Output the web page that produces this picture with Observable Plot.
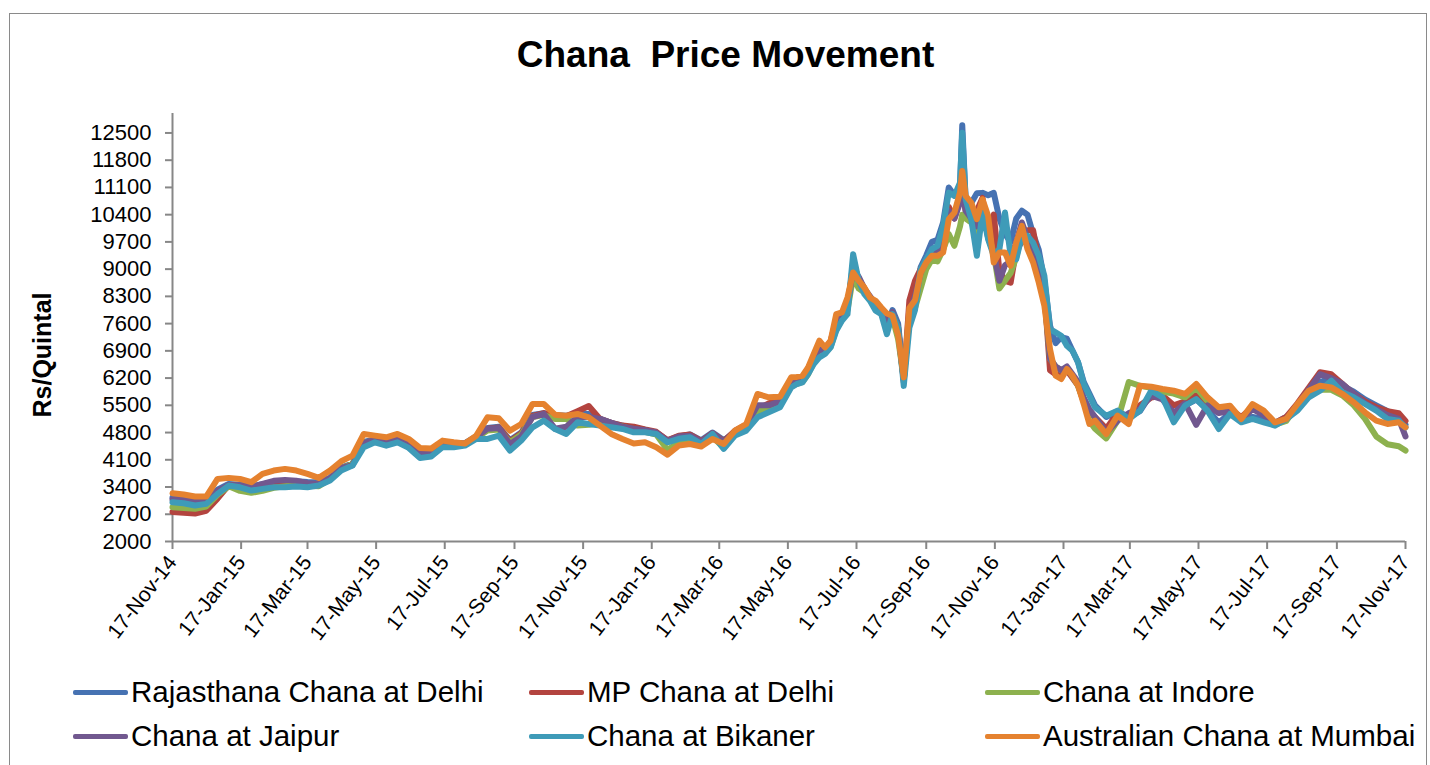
<!DOCTYPE html>
<html><head><meta charset="utf-8">
<script src="https://cdn.jsdelivr.net/npm/d3@7"></script>
<script src="https://cdn.jsdelivr.net/npm/@observablehq/plot@0.6"></script>
<style>
body{margin:0;background:#fff;font-family:"Liberation Sans",Arial,sans-serif;}
#wrap{position:relative;width:1430px;height:765px;overflow:hidden;background:#fff;}
#frame{position:absolute;left:9px;top:13px;width:1418px;height:800px;border:1px solid #8a8a8a;box-sizing:border-box;pointer-events:none;}
#title{position:absolute;left:0;width:1451px;top:33px;text-align:center;font-weight:bold;font-size:37px;white-space:pre;line-height:44px;}
#ytitle{position:absolute;left:42px;top:355px;transform:translate(-50%,-50%) rotate(-90deg);font-weight:bold;font-size:25px;white-space:nowrap;}
#chart{position:absolute;left:0;top:0;}
.leg{position:absolute;display:flex;align-items:center;font-size:29.5px;white-space:nowrap;transform:translateY(-50%);}
.leg span.sw{display:inline-block;width:55px;height:5px;border-radius:2px;margin-right:3px;}
</style></head>
<body>
<div id="wrap">
  <div id="chart"></div>
  <div id="title"></div>
  <div id="ytitle"></div>
  <div id="legend"></div>
  <div id="frame"></div>
</div>
<script>
const titleText = "Chana  Price Movement";
const yTitle = "Rs/Quintal";
const seriesNames = ["Rajasthana Chana at Delhi","MP Chana at Delhi","Chana at Indore","Chana at Jaipur","Chana at Bikaner","Australian Chana at Mumbai"];
const seriesColors = ["#4672B2","#B3443F","#8DB14E","#71588F","#3E9BB8","#E5822F"];
const yTicks = [2000,2700,3400,4100,4800,5500,6200,6900,7600,8300,9000,9700,10400,11100,11800,12500];
const xTickLabels = ["2014-11-17","2015-01-17","2015-03-17","2015-05-17","2015-07-17","2015-09-17","2015-11-17","2016-01-17","2016-03-17","2016-05-17","2016-07-17","2016-09-17","2016-11-17","2017-01-17","2017-03-17","2017-05-17","2017-07-17","2017-09-17","2017-11-17"];

const dates = [
"2014-11-17","2014-11-27","2014-12-07","2014-12-17","2014-12-27","2015-01-06","2015-01-16","2015-01-26","2015-02-05","2015-02-15","2015-02-25","2015-03-07","2015-03-17","2015-03-27","2015-04-06","2015-04-16","2015-04-26","2015-05-06","2015-05-16","2015-05-26","2015-06-05","2015-06-15","2015-06-25",
"2015-07-05","2015-07-15","2015-07-25","2015-08-04","2015-08-14","2015-08-24","2015-09-03","2015-09-13","2015-09-23","2015-10-03","2015-10-13","2015-10-23","2015-11-02","2015-11-12","2015-11-22","2015-12-02","2015-12-12","2015-12-22","2016-01-01","2016-01-11","2016-01-21","2016-01-31",
"2016-02-10","2016-02-20","2016-03-01","2016-03-11","2016-03-21","2016-03-31","2016-04-10","2016-04-20","2016-04-30","2016-05-10",
"2016-05-20","2016-05-25","2016-05-30","2016-06-04","2016-06-09","2016-06-14","2016-06-19","2016-06-24","2016-06-29","2016-07-04","2016-07-09","2016-07-14","2016-07-19","2016-07-24","2016-07-29","2016-08-03","2016-08-08","2016-08-13","2016-08-18","2016-08-23","2016-08-28","2016-09-02","2016-09-07","2016-09-12","2016-09-17","2016-09-22","2016-09-27","2016-10-02","2016-10-07","2016-10-12","2016-10-17",
"2016-10-19",
"2016-10-22","2016-10-27","2016-11-01","2016-11-06","2016-11-11","2016-11-16","2016-11-21","2016-11-26","2016-12-01","2016-12-06","2016-12-11","2016-12-16","2016-12-21","2016-12-26","2016-12-31","2017-01-05","2017-01-10","2017-01-15","2017-01-20","2017-01-25","2017-01-30","2017-02-04","2017-02-09","2017-02-14",
"2017-02-24","2017-03-06","2017-03-16","2017-03-26","2017-04-05","2017-04-15","2017-04-25","2017-05-05","2017-05-15","2017-05-25","2017-06-04","2017-06-14","2017-06-24","2017-07-04","2017-07-14","2017-07-24","2017-08-03","2017-08-13","2017-08-23","2017-09-02","2017-09-12","2017-09-22","2017-10-02","2017-10-12","2017-10-22","2017-11-01","2017-11-11","2017-11-17"];

const rajasthanaDelhi = [
3130,3100,3060,3080,3330,3480,3460,3420,3470,3520,3540,3550,3530,3520,3640,3900,4000,4560,4620,4560,4640,4520,4250,
4300,4500,4520,4530,4700,4920,4950,4600,4800,5250,5300,5250,5230,5300,5280,5150,5050,4980,4900,4870,4800,4600,
4700,4750,4600,4800,4600,4820,4950,5300,5420,5550,
6050,6100,6150,6380,6650,6900,6900,7050,7550,7750,8000,9150,8750,8450,8250,8050,7950,7500,7950,7600,6150,7800,8100,9050,9350,9700,9750,10200,11100,10900,11100,
12700,
10800,10700,10950,10960,10900,10960,10300,9900,9700,10300,10500,10400,9900,9500,8700,7550,7100,7250,7211,6900,6600,6100,5800,5500,
5200,5350,5200,5350,5800,5700,5300,5500,5650,5400,5050,5300,5150,5200,5150,5050,5200,5450,5850,6100,6200,6000,5850,5650,5500,5350,5200,5000];

const mpDelhi = [
2760,2740,2720,2790,3100,3450,3420,3380,3400,3450,3470,3500,3470,3460,3600,3880,3980,4540,4600,4560,4620,4520,4260,
4280,4480,4500,4520,4680,4900,4930,4580,4780,5230,5300,5200,5220,5350,5480,5150,5050,4980,4950,4880,4820,4600,
4720,4750,4580,4780,4580,4850,5000,5400,5550,5650,
6100,6150,6200,6450,6750,7050,6950,7150,7700,7850,8150,8950,8750,8500,8250,8100,7950,7700,7850,7500,6100,8200,8700,9000,9150,9400,9300,9900,10600,10300,10800,
11000,
10500,10400,10500,10830,9900,10400,8960,8700,8650,9500,9700,10000,10000,9200,8400,6400,6300,6250,6400,6200,6000,5600,5300,5200,
4900,5300,5150,5500,5700,5750,5500,5600,5800,5500,5350,5400,5200,5450,5300,5050,5200,5550,5950,6350,6300,6050,5800,5600,5450,5350,5300,5100];

const indore = [
2880,2860,2840,2900,3200,3420,3300,3250,3300,3380,3420,3460,3430,3420,3600,3890,3990,4550,4580,4540,4600,4500,4220,
4250,4460,4480,4500,4660,4850,4880,4550,4750,5200,5250,5150,5150,4980,5000,5050,5000,4950,4880,4820,4750,4350,
4550,4600,4470,4700,4400,4780,4950,5350,5450,5550,
6000,6050,6100,6300,6600,6850,6850,7000,7450,7700,7950,8800,8500,8400,8200,8050,7900,7500,7750,7200,6200,7700,8000,8500,9000,9250,9200,9500,9900,9600,10100,
10400,
10300,10200,9900,10400,9900,9400,8500,8700,8900,9300,9900,9600,9300,8900,8300,6700,6500,6400,6450,6250,6000,5600,5100,4900,
4650,5100,6100,6000,5950,5850,5800,5700,5950,5600,5400,5400,5100,5450,5300,5000,5100,5500,5850,5900,5900,5750,5500,5150,4700,4500,4450,4336];

const jaipur = [
3080,3060,3020,3050,3300,3450,3440,3400,3480,3560,3580,3560,3500,3480,3620,3890,3960,4540,4600,4560,4630,4520,4240,
4280,4480,4500,4510,4680,4900,4920,4500,4700,5200,5280,4900,4950,5200,5200,5150,5050,4950,4900,4860,4800,4580,
4700,4720,4560,4780,4560,4820,4980,5500,5500,5600,
6080,6120,6180,6420,6700,6950,6900,7100,7600,7800,8050,9000,8800,8500,8300,8100,7950,7600,7900,7450,6150,7900,8300,8900,9200,9500,9400,9800,10500,10300,10700,
11100,
10500,10300,10100,10600,9800,9400,8700,9100,9200,9700,10200,9800,9500,9000,8400,6700,6500,6400,6500,6300,6100,5700,5400,5200,
4800,5100,5300,5400,5750,5650,5300,5550,5000,5500,5300,5350,5150,5400,5250,5000,5150,5500,5900,6300,6200,6050,5800,5550,5400,5250,5150,4700];

const bikaner = [
3009,2983,2924,2967,3223,3437,3394,3309,3352,3394,3394,3412,3394,3437,3566,3823,3951,4421,4549,4464,4549,4405,4148,
4184,4421,4421,4464,4636,4636,4721,4336,4593,4935,5106,4892,4764,5063,5020,4978,4935,4892,4806,4806,4764,4550,
4640,4678,4507,4764,4379,4721,4849,5191,5320,5448,
5961,6048,6090,6304,6561,6731,6818,6988,7416,7673,7844,9385,8700,8358,8186,7930,7844,7331,7844,7502,6000,7500,7950,9000,9257,9513,9598,10112,10967,10882,11224,
12507,
10796,10283,9342,10454,9770,9342,9513,10454,9342,9257,9855,9855,9683,9342,8828,7459,7373,7288,7031,6903,6603,6048,5748,5448,
5234,5363,5149,5363,5876,5705,5063,5491,5662,5363,4892,5277,5063,5149,5063,4978,5149,5363,5705,5876,6133,5833,5705,5534,5363,5149,5106,4935];

const australianMumbai = [
3240,3206,3155,3155,3609,3635,3609,3523,3737,3823,3866,3823,3737,3635,3823,4062,4208,4764,4721,4678,4764,4636,4405,
4390,4593,4550,4520,4720,5191,5170,4849,5020,5534,5534,5260,5234,5277,5191,4978,4764,4636,4520,4550,4421,4233,
4464,4507,4440,4636,4507,4849,5020,5791,5705,5720,
6220,6230,6260,6475,6818,7160,6988,7160,7844,7887,8271,8913,8700,8529,8271,8186,8015,7861,7802,7300,6218,8000,8200,8900,9170,9342,9342,9427,10283,10454,10967,
11523,
10882,10711,10283,10796,10368,9170,9427,9427,9085,9683,10112,9513,9170,8657,8058,6946,6261,6176,6433,6261,6005,5534,5020,5106,
4764,5234,5020,6005,5979,5920,5876,5791,6048,5705,5448,5491,5149,5534,5363,5063,5149,5534,5876,6005,5961,5791,5576,5320,5106,5020,5063,4935];

const seriesValues = [rajasthanaDelhi, mpDelhi, indore, jaipur, bikaner, australianMumbai];

const parse = d3.utcParse("%Y-%m-%d");
const rows = [];
seriesNames.forEach((name, s) => {
  seriesValues[s].forEach((v, i) => {
    if (i < dates.length) rows.push({series: name, date: parse(dates[i]), value: v});
  });
});
const xTicks = xTickLabels.map(parse);
const axisColor = "#878787";

const chart = Plot.plot({
  width: 1430, height: 660,
  marginTop: 113, marginBottom: 119, marginLeft: 172, marginRight: 25,
  style: {background: "transparent", fontFamily: "'Liberation Sans', Arial, sans-serif", fontSize: "20px", color: "#000", overflow: "visible"},
  x: {type: "utc", domain: [xTicks[0], xTicks[xTicks.length - 1]]},
  y: {domain: [2000, 13000]},
  color: {domain: seriesNames, range: seriesColors},
  marks: [
    Plot.axisY({ticks: yTicks, tickSize: 7, tickPadding: 14, stroke: axisColor, strokeWidth: 2, tickFormat: d => String(d), label: null, fontSize: 22}),
    Plot.axisX({ticks: xTicks, tickSize: 8, tickPadding: 9, tickRotate: -52, stroke: axisColor, strokeWidth: 2, tickFormat: d3.utcFormat("%d-%b-%y"), label: null, fontSize: 21}),
    Plot.ruleX([xTicks[0]], {stroke: axisColor, strokeWidth: 2}),
    Plot.ruleY([2000], {stroke: axisColor, strokeWidth: 2}),
    Plot.lineY(rows, {x: "date", y: "value", z: "series", stroke: "series", strokeWidth: 6, strokeLinejoin: "round", strokeLinecap: "round"})
  ]
});
document.getElementById("chart").appendChild(chart);
document.getElementById("title").textContent = titleText;
document.getElementById("ytitle").textContent = yTitle;

const legendCols = [73, 529, 985];
const legendRows = [692, 736];
const legend = document.getElementById("legend");
seriesNames.forEach((name, i) => {
  const item = document.createElement("div");
  item.className = "leg";
  item.style.left = legendCols[i % 3] + "px";
  item.style.top = legendRows[Math.floor(i / 3)] + "px";
  const sw = document.createElement("span");
  sw.className = "sw";
  sw.style.background = seriesColors[i];
  const tx = document.createElement("span");
  tx.textContent = name;
  item.appendChild(sw); item.appendChild(tx);
  legend.appendChild(item);
});
</script>
</body></html>
